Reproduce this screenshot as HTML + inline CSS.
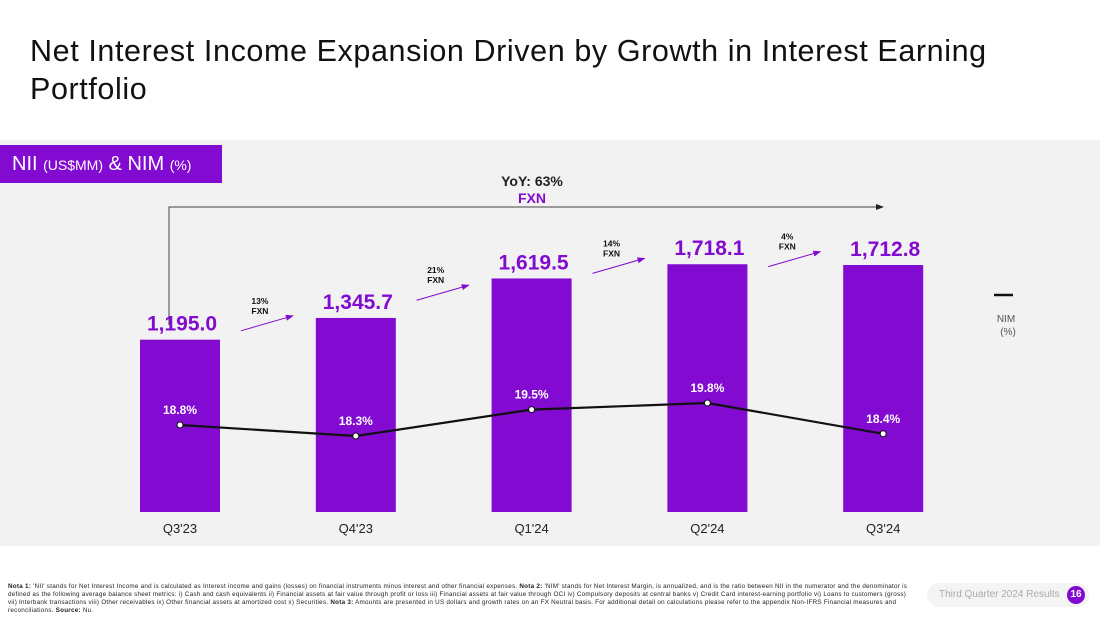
<!DOCTYPE html>
<html><head><meta charset="utf-8"><style>
body{margin:0;width:1100px;height:619px;background:#fff;font-family:"Liberation Sans",sans-serif;overflow:hidden;position:relative}
.t{position:absolute}
</style></head><body>
<div class="t" style="left:30px;top:32px;font-size:30.5px;letter-spacing:0.6px;line-height:38px;color:#111;width:1040px">Net Interest Income Expansion Driven by Growth in Interest Earning<br>Portfolio</div>
<div class="t" style="left:0;top:140px;width:1100px;height:406px;background:#f2f2f2"></div>
<div class="t" style="left:0;top:145px;width:222px;height:38px;background:#820ad1;color:#fff;font-size:20px;line-height:38px;padding-left:12px;box-sizing:border-box">NII <span style="font-size:14px">(US$MM)</span> &amp; NIM <span style="font-size:14px">(%)</span></div>
<svg class="t" style="left:0;top:0" width="1100" height="619">
<defs><marker id="ah" markerWidth="8" markerHeight="8" refX="7" refY="4" orient="auto"><path d="M0,1 L8,4 L0,7z" fill="#222"/></marker>
<marker id="ap" markerWidth="8" markerHeight="8" refX="7" refY="4" orient="auto"><path d="M0,1 L8,4 L0,7z" fill="#820ad1"/></marker></defs>
<g id="g"></g>
</svg>
<div class="t" style="left:8px;top:583px;width:905px;font-size:6.3px;letter-spacing:0.25px;line-height:8px;color:#222"><b>Nota 1:</b> 'NII' stands for Net Interest Income and is calculated as Interest income and gains (losses) on financial instruments minus interest and other financial expenses. <b>Nota 2:</b> 'NIM' stands for Net Interest Margin, is annualized, and is the ratio between NII in the numerator and the denominator is defined as the following average balance sheet metrics: i) Cash and cash equivalents ii) Financial assets at fair value through profit or loss iii) Financial assets at fair value through OCI iv) Compulsory deposits at central banks v) Credit Card interest-earning portfolio vi) Loans to customers (gross) vii) Interbank transactions viii) Other receivables ix) Other financial assets at amortized cost x) Securities. <b>Nota 3:</b> Amounts are presented in US dollars and growth rates on an FX Neutral basis. For additional detail on calculations please refer to the appendix Non-IFRS Financial measures and reconciliations. <b>Source:</b> Nu.</div>
<div class="t" style="left:927px;top:583px;width:162px;height:24px;border-radius:12px;background:#f4f4f4"></div>
<div class="t" style="left:939px;top:589px;font-size:10px;color:#aaa">Third Quarter 2024 Results</div>
<div class="t" style="left:1067px;top:586px;width:18px;height:18px;border-radius:9px;background:#820ad1;color:#fff;font-size:10px;font-weight:bold;text-align:center;line-height:18px">16</div>
<script>
const categories=["Q3'23","Q4'23","Q1'24","Q2'24","Q3'24"];
const niiValues=[1195.0,1345.7,1619.5,1718.1,1712.8];
const niiLabels=["1,195.0","1,345.7","1,619.5","1,718.1","1,712.8"];
const nimValues=[18.8,18.3,19.5,19.8,18.4];
const growthLabels=["13%","21%","14%","4%"];
const NS="http://www.w3.org/2000/svg",g=document.getElementById('g');
const x=i=>180+i*175.8, yB=v=>512-v*0.1442, yL=v=>436-(v-18.3)*22;
function mk(t,a,txt){const e=document.createElementNS(NS,t);for(const k in a)e.setAttribute(k,a[k]);if(txt!=null)e.textContent=txt;g.appendChild(e);return e;}
function txt(x0,y0,s,size,fill,w,anchor){return mk('text',{x:x0,y:y0,'font-size':size,fill:fill,'font-weight':w,'text-anchor':anchor||'middle','font-family':'Liberation Sans, sans-serif'},s);}
let e=mk('path',{d:`M${x(0)-11},325 V207 H883`,fill:'none',stroke:'#444','stroke-width':1,'marker-end':'url(#ah)'});

e=txt(532,186,'YoY: 63%',14,'#222','bold');
e=txt(532,203,'FXN',14,'#820ad1','bold');
niiValues.forEach((v,i)=>{
 let r=mk('rect',{x:x(i)-40,y:yB(v),width:80,height:512-yB(v),fill:'#820ad1'});
 
 let t=txt(x(i)+2,yB(v)-9,niiLabels[i],21,'#820ad1','bold');
 
 let c=txt(x(i),533,categories[i],13,'#222','normal');
 
});
growthLabels.forEach((s,i)=>{
 const mx=(x(i)+x(i+1))/2, my=(yB(niiValues[i])+yB(niiValues[i+1]))/2-10;
 let a=mk('line',{x1:mx-27,y1:my+12,x2:mx+25,y2:my-3,stroke:'#820ad1','stroke-width':1,'marker-end':'url(#ap)'});
 
 let t1=txt(mx-8,my-15,s,8.5,'#111','bold');
 let t2=txt(mx-8,my-5,'FXN',8.5,'#111','bold');
});
let l=mk('polyline',{points:nimValues.map((v,i)=>x(i)+','+yL(v)).join(' '),fill:'none',stroke:'#111','stroke-width':2.2});

nimValues.forEach((v,i)=>{
 let c=mk('circle',{cx:x(i),cy:yL(v),r:3,fill:'#fff',stroke:'#111','stroke-width':1});
 
 let t=txt(x(i),yL(v)-11,v.toFixed(1)+'%',12,'#fff','bold');
 
});
e=mk('line',{x1:994,y1:295,x2:1013,y2:295,stroke:'#111','stroke-width':2.5});
e=txt(1006,322,'NIM',10,'#555','normal');
e=txt(1008,335,'(%)',10,'#555','normal');
</script>
</body></html>
